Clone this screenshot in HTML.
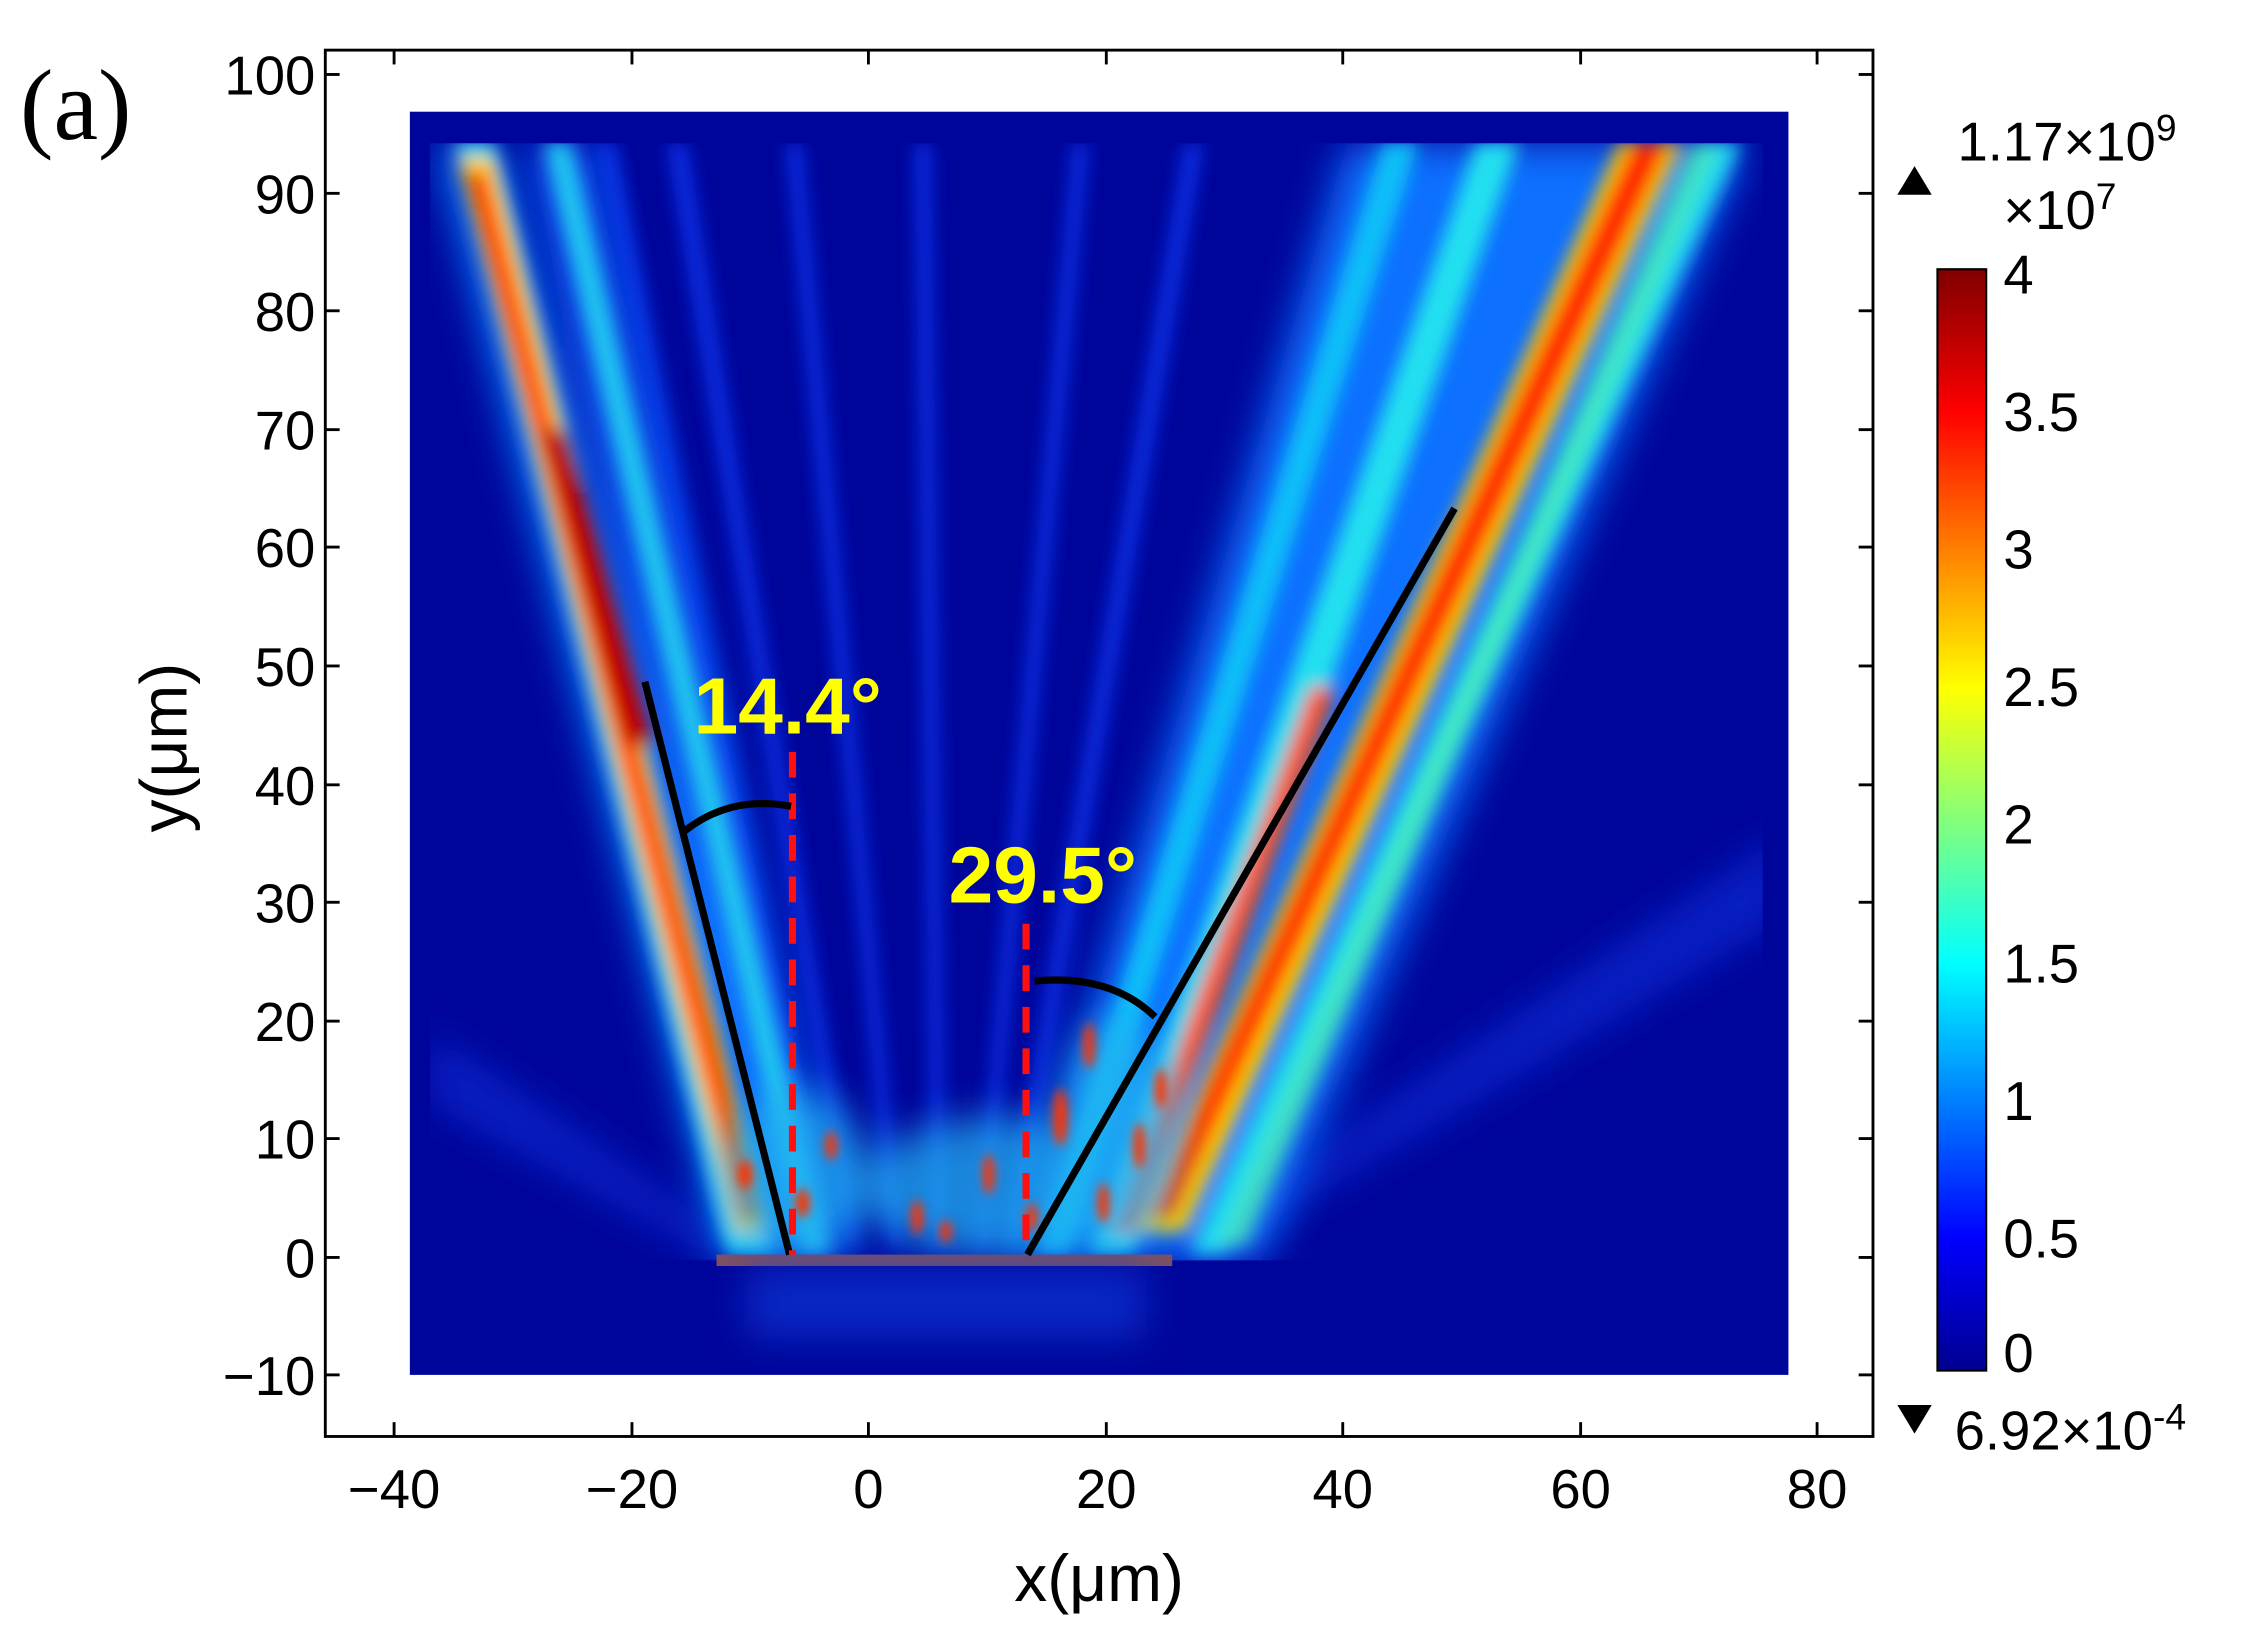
<!DOCTYPE html>
<html><head><meta charset="utf-8"><style>
html,body{margin:0;padding:0;background:#fff;}
svg{display:block;font-family:"Liberation Sans",Arial,sans-serif;}
</style></head><body>
<svg width="2247" height="1647" viewBox="0 0 1568 1150" preserveAspectRatio="none" xmlns="http://www.w3.org/2000/svg">
<defs>
<filter id="b6" filterUnits="userSpaceOnUse" x="200" y="0" width="1150" height="1050"><feGaussianBlur stdDeviation="6"/></filter>
<filter id="b12" filterUnits="userSpaceOnUse" x="200" y="0" width="1150" height="1050"><feGaussianBlur stdDeviation="14"/></filter>
<filter id="b3" filterUnits="userSpaceOnUse" x="200" y="0" width="1150" height="1050"><feGaussianBlur stdDeviation="3.5"/></filter>
<linearGradient id="jet" x1="0" y1="1" x2="0" y2="0">
<stop offset="0" stop-color="#00008f"/><stop offset="0.12" stop-color="#0000ff"/>
<stop offset="0.37" stop-color="#00ffff"/><stop offset="0.62" stop-color="#ffff00"/>
<stop offset="0.87" stop-color="#ff0000"/><stop offset="1" stop-color="#800000"/>
</linearGradient>
<clipPath id="pc"><rect x="286" y="78" width="962" height="882"/></clipPath>
<clipPath id="pc2"><rect x="300" y="100" width="930" height="780"/></clipPath>
</defs>
<rect width="1568" height="1150" fill="#fff"/>
<rect x="286" y="78" width="962" height="882" fill="#00059a"/>
<g clip-path="url(#pc)">
<g clip-path="url(#pc2)">
<g filter="url(#b6)" fill="#0a3cff" opacity="0.7">
<polygon points="590,870 600,870 480,100 465,100"/>
<polygon points="620,870 630,870 560,100 548,100"/>
<polygon points="650,870 660,870 650,100 638,100"/>
<polygon points="680,870 690,870 760,100 748,100"/>
<polygon points="700,870 712,870 840,100 826,100"/>
<polygon points="565,870 575,870 430,100 415,100"/>
</g>
<g filter="url(#b12)" fill="#0a30e0" opacity="0.6">
<polygon points="500,880 520,870 300,720 300,770"/>
<polygon points="820,870 840,880 1248,640 1248,580"/>
</g>
<g filter="url(#b12)">
<polygon points="505,880 555,880 345,100 305,100" fill="#1080ff"/>
<polygon points="545,880 590,880 410,100 370,100" fill="#0a60ff"/>
</g>
<g filter="url(#b6)">
<polygon points="508,875 540,875 345,100 318,100" fill="#20d8f0"/>
<polygon points="560,875 578,875 398,100 380,100" fill="#20c8f0"/>
<polygon points="514,860 537,860 344,110 320,110" fill="#ffd000"/>
<polygon points="518,850 532,850 339,120 325,120" fill="#ff2a00"/>
<polygon points="436,520 456,520 394,300 376,300" fill="#c00000"/>
</g>
<g filter="url(#b12)">
<polygon points="710,880 880,880 1220,100 940,100" fill="#0a70ff"/>
</g>
<g filter="url(#b6)">
<polygon points="725,875 745,875 990,100 965,100" fill="#10c0f8"/>
<polygon points="760,875 790,875 1060,100 1030,100" fill="#20e0f0"/>
<polygon points="830,875 855,875 1215,100 1190,100" fill="#20d8f0"/>
<polygon points="850,870 870,870 1200,100 1180,100" fill="#50f0b0" opacity="0.7"/>
<polygon points="793,860 827,860 1174,100 1130,100" fill="#ffd000"/>
<polygon points="801,850 819,850 1165,100 1139,100" fill="#ff2000"/>
<polygon points="775,860 792,860 932,480 915,480" fill="#ff5000"/>
</g>
<g filter="url(#b12)" fill="#20b0f0" opacity="0.75">
<ellipse cx="555" cy="820" rx="50" ry="60"/><ellipse cx="700" cy="830" rx="100" ry="50"/><ellipse cx="780" cy="790" rx="40" ry="80"/>
</g>
<g filter="url(#b3)" fill="#ff3000">
<ellipse cx="520" cy="820" rx="5" ry="10"/><ellipse cx="560" cy="840" rx="5" ry="10"/><ellipse cx="640" cy="850" rx="4" ry="12"/>
<ellipse cx="690" cy="820" rx="4" ry="14"/><ellipse cx="740" cy="780" rx="5" ry="20"/><ellipse cx="770" cy="840" rx="4" ry="14"/>
<ellipse cx="795" cy="800" rx="4" ry="16"/><ellipse cx="660" cy="860" rx="4" ry="8"/><ellipse cx="580" cy="800" rx="4" ry="10"/>
<ellipse cx="760" cy="730" rx="4" ry="16"/><ellipse cx="720" cy="850" rx="4" ry="10"/><ellipse cx="810" cy="760" rx="4" ry="14"/>
</g>
</g>
<rect x="500" y="876" width="318" height="8" fill="#805060"/>
<g filter="url(#b12)" fill="#1040e0" opacity="0.6"><rect x="520" y="885" width="280" height="50"/></g>
</g>
<line x1="450" y1="476" x2="551" y2="876" stroke="#000" stroke-width="5"/>
<line x1="717" y1="876" x2="1015" y2="355" stroke="#000" stroke-width="5"/>
<line x1="553" y1="525" x2="553" y2="876" stroke="#ff1010" stroke-width="5" stroke-dasharray="18,11"/>
<line x1="716" y1="645" x2="716" y2="876" stroke="#ff1010" stroke-width="5" stroke-dasharray="18,11"/>
<path d="M478,580 Q510,555 552,563" fill="none" stroke="#000" stroke-width="5"/>
<path d="M722,685 Q775,680 806,710" fill="none" stroke="#000" stroke-width="5"/>
<text x="484" y="512" font-size="56" font-weight="bold" fill="#ffff00">14.4°</text>
<text x="662" y="630" font-size="56" font-weight="bold" fill="#ffff00">29.5°</text>
<rect x="227" y="35" width="1080" height="968" fill="none" stroke="#000" stroke-width="2"/>
<g stroke="#000" stroke-width="2">
<line x1="275" y1="1003" x2="275" y2="993"/><line x1="441" y1="1003" x2="441" y2="993"/><line x1="606" y1="1003" x2="606" y2="993"/>
<line x1="772" y1="1003" x2="772" y2="993"/><line x1="937" y1="1003" x2="937" y2="993"/><line x1="1103" y1="1003" x2="1103" y2="993"/><line x1="1268" y1="1003" x2="1268" y2="993"/>
<line x1="275" y1="35" x2="275" y2="45"/><line x1="441" y1="35" x2="441" y2="45"/><line x1="606" y1="35" x2="606" y2="45"/>
<line x1="772" y1="35" x2="772" y2="45"/><line x1="937" y1="35" x2="937" y2="45"/><line x1="1103" y1="35" x2="1103" y2="45"/><line x1="1268" y1="35" x2="1268" y2="45"/>
<line x1="227" y1="52" x2="237" y2="52"/><line x1="227" y1="135" x2="237" y2="135"/><line x1="227" y1="217" x2="237" y2="217"/><line x1="227" y1="300" x2="237" y2="300"/><line x1="227" y1="382" x2="237" y2="382"/><line x1="227" y1="465" x2="237" y2="465"/><line x1="227" y1="548" x2="237" y2="548"/><line x1="227" y1="630" x2="237" y2="630"/><line x1="227" y1="713" x2="237" y2="713"/><line x1="227" y1="795" x2="237" y2="795"/><line x1="227" y1="878" x2="237" y2="878"/><line x1="227" y1="960" x2="237" y2="960"/>
<line x1="1307" y1="52" x2="1297" y2="52"/><line x1="1307" y1="135" x2="1297" y2="135"/><line x1="1307" y1="217" x2="1297" y2="217"/><line x1="1307" y1="300" x2="1297" y2="300"/><line x1="1307" y1="382" x2="1297" y2="382"/><line x1="1307" y1="465" x2="1297" y2="465"/><line x1="1307" y1="548" x2="1297" y2="548"/><line x1="1307" y1="630" x2="1297" y2="630"/><line x1="1307" y1="713" x2="1297" y2="713"/><line x1="1307" y1="795" x2="1297" y2="795"/><line x1="1307" y1="878" x2="1297" y2="878"/><line x1="1307" y1="960" x2="1297" y2="960"/>
</g>
<g font-size="38" fill="#000" text-anchor="end">
<text x="220" y="66">100</text><text x="220" y="149">90</text><text x="220" y="231">80</text><text x="220" y="314">70</text><text x="220" y="396">60</text><text x="220" y="479">50</text><text x="220" y="562">40</text><text x="220" y="644">30</text><text x="220" y="727">20</text><text x="220" y="809">10</text><text x="220" y="892">0</text><text x="220" y="974">−10</text>
</g>
<g font-size="38" fill="#000" text-anchor="middle">
<text x="275" y="1053">−40</text><text x="441" y="1053">−20</text><text x="606" y="1053">0</text><text x="772" y="1053">20</text><text x="937" y="1053">40</text><text x="1103" y="1053">60</text><text x="1268" y="1053">80</text>
</g>
<text x="767" y="1118" font-size="46" text-anchor="middle">x(μm)</text>
<text transform="translate(130,522) rotate(-90)" font-size="46" text-anchor="middle">y(μm)</text>
<text x="14" y="97" font-size="70" style="font-family:'Liberation Serif',serif">(a)</text>
<rect x="1352" y="188" width="34" height="769" fill="url(#jet)" stroke="#000" stroke-width="1.5"/>
<g font-size="38" fill="#000">
<text x="1398" y="205">4</text><text x="1398" y="301">3.5</text><text x="1398" y="397">3</text><text x="1398" y="493">2.5</text><text x="1398" y="589">2</text><text x="1398" y="686">1.5</text><text x="1398" y="782">1</text><text x="1398" y="878">0.5</text><text x="1398" y="958">0</text>
<text x="1366" y="112">1.17×10<tspan font-size="26" dy="-14">9</tspan></text>
<text x="1398" y="160">×10<tspan font-size="26" dy="-14">7</tspan></text>
<text x="1364" y="1012">6.92×10<tspan font-size="26" dy="-14">-4</tspan></text>
</g>
<polygon points="1336,116 1324,136 1348,136" fill="#000"/>
<polygon points="1324,981 1348,981 1336,1001" fill="#000"/>
</svg>
</body></html>
